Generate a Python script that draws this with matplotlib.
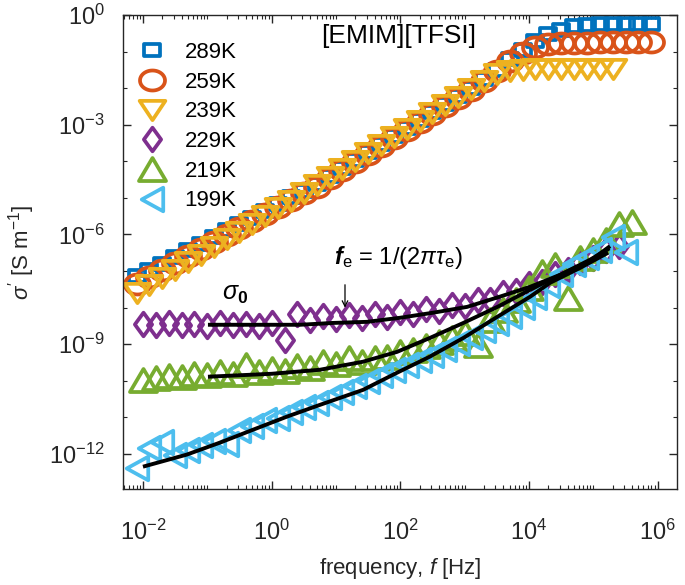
import numpy as np
import matplotlib.pyplot as plt
from matplotlib.path import Path
from matplotlib.ticker import LogLocator, NullFormatter

plt.rcParams['font.family'] = ['Liberation Sans', 'DejaVu Sans']
plt.rcParams['mathtext.fontset'] = 'custom'
plt.rcParams['mathtext.rm'] = 'Liberation Sans'
plt.rcParams['mathtext.it'] = 'Liberation Sans:italic'
plt.rcParams['mathtext.bf'] = 'Liberation Sans:bold'
plt.rcParams['mathtext.bfit'] = 'Liberation Sans:italic:bold'

# log10 of frequency [Hz]
log_f_hi = [-2.1, -1.9, -1.7, -1.5, -1.3, -1.1, -0.9, -0.7, -0.5, -0.3, -0.1,
            0.1, 0.3, 0.5, 0.7, 0.9, 1.1, 1.3, 1.5, 1.7, 1.9, 2.1, 2.3, 2.5,
            2.7, 2.9, 3.1, 3.3, 3.5, 3.7, 3.9, 4.1, 4.3, 4.5, 4.7, 4.9, 5.1,
            5.3, 5.5, 5.7, 5.9]
log_f_lo = [-2.0, -1.8, -1.6, -1.4, -1.2, -1.0, -0.8, -0.6, -0.4, -0.2, 0.0,
            0.2, 0.4, 0.6, 0.8, 1.0, 1.2, 1.4, 1.6, 1.8, 2.0, 2.2, 2.4, 2.6,
            2.8, 3.0, 3.2, 3.4, 3.6, 3.8, 4.0, 4.2, 4.4, 4.6, 4.8, 5.0, 5.2,
            5.4, 5.6]

# log10 of sigma' [S/m]
s289 = [-7.15, -6.97, -6.80, -6.61, -6.43, -6.26, -6.07, -5.89, -5.71, -5.54,
        -5.35, -5.17, -4.99, -4.81, -4.63, -4.41, -4.19, -3.97, -3.75, -3.53,
        -3.31, -3.09, -2.87, -2.65, -2.43, -2.21, -1.99, -1.76, -1.50, -1.20,
        -0.95, -0.72, -0.52, -0.40, -0.31, -0.27, -0.26, -0.25, -0.25, -0.24,
        -0.24]
s259 = [-7.35, -7.16, -6.97, -6.78, -6.59, -6.40, -6.21, -6.02, -5.83, -5.64,
        -5.45, -5.26, -5.07, -4.88, -4.69, -4.47, -4.25, -4.03, -3.81, -3.59,
        -3.37, -3.15, -2.93, -2.71, -2.49, -2.27, -2.05, -1.80, -1.52, -1.25,
        -1.03, -0.88, -0.80, -0.77, -0.76, -0.76, -0.75, -0.75, -0.75, -0.75,
        -0.75]
s239 = [-7.60, -7.39, -7.18, -6.97, -6.76, -6.55, -6.34, -6.13, -5.92, -5.71,
        -5.50, -5.29, -5.08, -4.87, -4.66, -4.44, -4.22, -4.00, -3.78, -3.56,
        -3.34, -3.12, -2.90, -2.68, -2.46, -2.24, -2.02, -1.80, -1.62, -1.53,
        -1.50, -1.49, -1.49, -1.49, -1.49, -1.49, -1.49, -1.49]
s229 = [-8.44, -8.47, -8.42, -8.47, -8.44, -8.50, -8.42, -8.47, -8.44, -8.50,
        -8.42, -8.88, -8.17, -8.33, -8.22, -8.31, -8.20, -8.28, -8.17, -8.25,
        -8.11, -8.17, -8.03, -8.09, -7.92, -7.95, -7.79, -7.79, -7.60, -7.54,
        -7.35, -7.30, -7.08, -6.97, -6.75, -6.64, -6.42, -6.31]
s219 = [-9.97, -9.92, -9.86, -9.89, -9.81, -9.84, -9.75, -9.81, -9.56, -9.75,
        -9.67, -9.73, -9.59, -9.64, -9.48, -9.54, -9.37, -9.48, -9.37, -9.34,
        -9.21, -9.15, -9.04, -8.93, -8.83, -8.69, -9.02, -8.33, -8.06, -7.79,
        -7.46, -7.02, -6.83, -7.73, -6.64, -6.42, -6.15, -5.71, -5.66]
s199 = [-12.38, -11.83, -11.67, -12.02, -11.89, -11.75, -11.64, -11.72, -11.34,
        -11.23, -11.07, -11.01, -10.85, -10.71, -10.60, -10.44, -10.30, -10.14,
        -10.00, -9.84, -9.70, -9.56, -9.43, -9.29, -9.13, -8.96, -8.80, -8.61,
        -8.42, -8.22, -7.98, -7.72, -7.38, -7.08, -6.82, -6.63, -6.42, -6.07,
        -6.48]

# fitted curves (log10 f, log10 sigma')
fit229_x = [-0.99, 0.0, 0.44, 0.95, 1.48, 1.99, 2.51, 3.04, 3.55, 4.02, 4.49, 4.95, 5.26]
fit229_y = [-8.47, -8.47, -8.47, -8.42, -8.39, -8.28, -8.14, -7.98, -7.70, -7.43, -7.10, -6.72, -6.32]
fit219_x = [-0.99, 0.0, 0.75, 1.42, 1.95, 2.46, 2.98, 3.51, 4.02, 4.49, 4.95, 5.25]
fit219_y = [-9.89, -9.81, -9.70, -9.48, -9.21, -8.83, -8.42, -7.98, -7.51, -7.10, -6.69, -6.38]
fit199_x = [-2.0, -1.32, -0.80, -0.29, 0.24, 0.75, 1.42, 1.95, 2.46, 2.98, 3.51, 4.02, 4.33, 4.80, 5.23]
fit199_y = [-12.35, -12.02, -11.69, -11.34, -10.98, -10.66, -10.25, -9.78, -9.34, -8.83, -8.25, -7.70, -7.32, -6.91, -6.50]

labels = ['289K', '259K', '239K', '229K', '219K', '199K']
colors = ['#0072BD', '#D95319', '#EDB120', '#7E2F8E', '#77AC30', '#4DBEEE']

# markers, slightly wider/taller like the stretched original
sq = Path([(-1, -0.75), (1, -0.75), (1, 0.75), (-1, 0.75), (-1, -0.75)],
          [1, 2, 2, 2, 79])
t = np.linspace(0, 2 * np.pi, 60)
ci = Path(np.column_stack([np.cos(t), 0.8 * np.sin(t)]), closed=True)
tdown = Path([(-1, 0.75), (1, 0.75), (0, -0.75), (-1, 0.75)], [1, 2, 2, 79])
dia = Path([(0, 1), (0.73, 0), (0, -1), (-0.73, 0), (0, 1)], [1, 2, 2, 2, 79])
tup = Path([(-1, -0.85), (1, -0.85), (0, 0.85), (-1, -0.85)], [1, 2, 2, 79])
tleft = Path([(0.91, 1), (0.91, -1), (-0.91, 0), (0.91, 1)], [1, 2, 2, 79])
markers = [sq, ci, tdown, dia, tup, tleft]
sizes = [12, 18, 18.5, 17, 19.5, 17]

series = [(log_f_hi, s289), (log_f_hi, s259), (log_f_hi[:len(s239)], s239),
          (log_f_lo[:len(s229)], s229), (log_f_lo, s219),
          (log_f_hi[:len(s199)], s199)]

fig = plt.figure(figsize=(6.85, 5.85), dpi=100)
ax = fig.add_axes([0.1796, 0.1641, 0.8087, 0.8103])

for (lx, ly), lab, c, m, s in zip(series, labels, colors, markers, sizes):
    ax.plot(10.0 ** np.array(lx), 10.0 ** np.array(ly), linestyle='none',
            marker=m, ms=s, mfc='none', mec=c, mew=2.7, label=lab)

for fx, fy in [(fit229_x, fit229_y), (fit219_x, fit219_y), (fit199_x, fit199_y)]:
    ax.plot(10.0 ** np.array(fx), 10.0 ** np.array(fy), color='k', lw=2.8,
            solid_capstyle='butt')

ax.set_xscale('log')
ax.set_yscale('log')
ax.set_xlim(10 ** -2.31, 10 ** 6.3)
ax.set_ylim(10 ** -12.96, 1)

ax.set_xticks([1e-2, 1e0, 1e2, 1e4, 1e6])
ax.xaxis.set_minor_locator(LogLocator(base=10, subs=np.arange(1, 10), numticks=30))
ax.xaxis.set_minor_formatter(NullFormatter())
ax.set_yticks([1e-12, 1e-9, 1e-6, 1e-3, 1e0])
ax.yaxis.set_minor_locator(LogLocator(base=10, subs=[1.0], numticks=30))
ax.yaxis.set_minor_formatter(NullFormatter())

ax.tick_params(which='both', direction='in', top=True, right=True,
               colors='#262626', labelsize=17)
ax.tick_params(which='major', length=6, width=1)
ax.tick_params(which='minor', length=3, width=0.8)
ax.tick_params(axis='x', which='major', pad=22)
ax.tick_params(axis='y', which='major', pad=13)
for sp in ax.spines.values():
    sp.set_color('#262626')
    sp.set_linewidth(1)

ax.set_xlabel('frequency, $f$ [Hz]', fontsize=16, color='#262626', labelpad=8)
ax.set_ylabel(r"$\sigma'$ [S m$^{-1}$]", fontsize=16, color='#262626', labelpad=9)

ax.text(0.497, 0.955, '[EMIM][TFSI]', transform=ax.transAxes, fontsize=19,
        ha='center', va='center')
ax.text(10 ** -0.57, 10 ** -7.62, r'$\sigma_{\mathbf{0}}$', fontsize=18,
        ha='center', va='center')
ax.text(10 ** 0.97, 10 ** -6.62, r'$\mathbfit{f}_{\mathrm{e}}$ = 1/(2$\pi\tau_{\mathrm{e}}$)',
        fontsize=17, ha='left', va='center')
ax.annotate('', xy=(10 ** 1.14, 10 ** -8.08), xytext=(10 ** 1.14, 10 ** -7.3),
            arrowprops=dict(arrowstyle='->', color='k', lw=0.9))

ax.legend(loc='upper left', frameon=False, numpoints=1, fontsize=16,
          handletextpad=0.7, labelspacing=0.39, borderaxespad=0.5,
          handlelength=1.5, bbox_to_anchor=(-0.013, 0.985))

fig.savefig('out.png', dpi=100)
